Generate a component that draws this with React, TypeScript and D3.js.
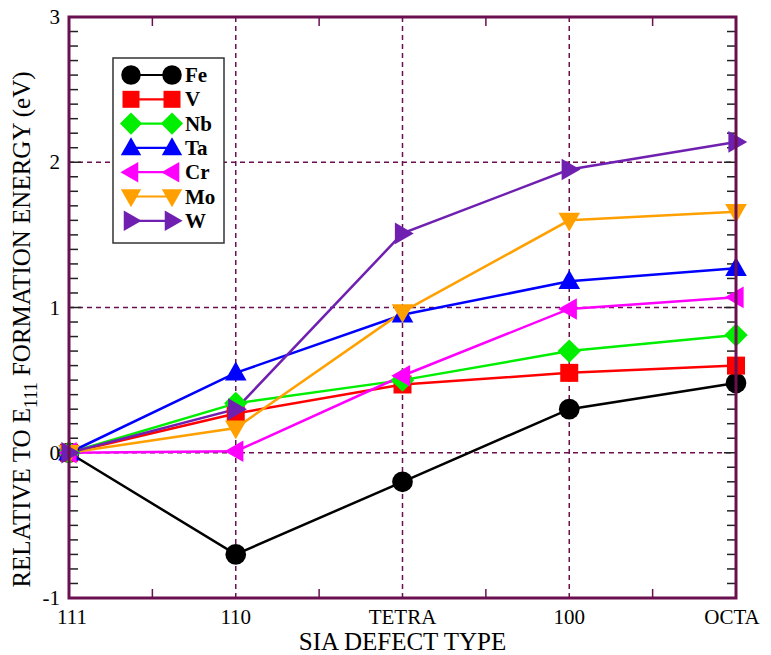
import React, { useEffect } from 'react';
import * as d3 from 'd3';

const categories = ['111', '110', 'TETRA', '100', 'OCTA'];
const yTicks = [-1, 0, 1, 2, 3];

const feValues = [0, -0.7, -0.2, 0.3, 0.48];
const vValues = [0, 0.27, 0.47, 0.55, 0.6];
const nbValues = [0, 0.34, 0.5, 0.7, 0.81];
const taValues = [0, 0.55, 0.95, 1.18, 1.27];
const crValues = [0, 0.01, 0.53, 0.99, 1.07];
const moValues = [0, 0.17, 0.97, 1.6, 1.66];
const wValues = [0, 0.3, 1.51, 1.95, 2.14];

const seriesNames = ['Fe', 'V', 'Nb', 'Ta', 'Cr', 'Mo', 'W'];
const seriesColors = ['#000000', '#ff0000', '#00ee00', '#0000ff', '#ff00ff', '#ffa000', '#7020b0'];
const seriesMarkers = ['circle', 'square', 'diamond', 'up', 'left', 'down', 'right'];
const seriesValues = [feValues, vValues, nbValues, taValues, crValues, moValues, wValues];

const FRAME = '#6a1050';
const txt = { fontFamily: 'Liberation Serif' };

function markerPath(kind: string, s: number): string {
  switch (kind) {
    case 'square':
      return `M${-s},${-s}H${s}V${s}H${-s}Z`;
    case 'diamond':
      return `M0,${-s * 1.3}L${s * 1.3},0L0,${s * 1.3}L${-s * 1.3},0Z`;
    case 'up':
      return `M0,${-s * 1.25}L${s * 1.2},${s * 0.85}L${-s * 1.2},${s * 0.85}Z`;
    case 'down':
      return `M0,${s * 1.25}L${s * 1.2},${-s * 0.85}L${-s * 1.2},${-s * 0.85}Z`;
    case 'left':
      return `M${-s * 1.25},0L${s * 0.85},${-s * 1.2}L${s * 0.85},${s * 1.2}Z`;
    case 'right':
      return `M${s * 1.25},0L${-s * 0.85},${-s * 1.2}L${-s * 0.85},${s * 1.2}Z`;
    default:
      return d3.arc()({ innerRadius: 0, outerRadius: s * 1.15, startAngle: 0, endAngle: 2 * Math.PI }) as string;
  }
}

const width = 771;
const height = 655;
const margin = { top: 17, right: 35, bottom: 57, left: 69 };
const innerW = width - margin.left - margin.right;
const innerH = height - margin.top - margin.bottom;

const App = () => {
  useEffect(() => {
    document.body.style.margin = '0';
  }, []);

  const xScale = d3.scalePoint<string>().domain(categories).range([0, innerW]);
  const yScale = d3.scaleLinear().domain([-1, 3]).range([innerH, 0]);
  const line = d3.line<number>()
    .x((d, i) => xScale(categories[i])!)
    .y(d => yScale(d));

  const minorY = d3.range(-10, 31).map(i => i / 10);
  const tickLen = (d: number) => (Math.round(d * 10) % 10 === 0 ? 12 : 9);
  const step = xScale.step();
  const midX = categories.slice(0, -1).map(c => xScale(c)! + step / 2);

  return (
    <svg width={width} height={height} style={{ display: 'block' }}>
      <style>{'text, tspan { font-family: "Liberation Serif", serif !important; }'}</style>
      <g transform={`translate(${margin.left},${margin.top})`}>
        {/* dashed grid */}
        {yTicks.filter(d => d > -1 && d < 3).map(d => (
          <line key={'gy' + d} x1={0} x2={innerW} y1={yScale(d)} y2={yScale(d)}
            stroke={FRAME} strokeWidth={1.5} strokeDasharray="5,4" />
        ))}
        {categories.slice(1, -1).map(c => (
          <line key={'gx' + c} x1={xScale(c)} x2={xScale(c)} y1={0} y2={innerH}
            stroke={FRAME} strokeWidth={1.5} strokeDasharray="5,4" />
        ))}

        {/* minor ticks */}
        {minorY.map(d => (
          <g key={'my' + d}>
            <line x1={0} x2={tickLen(d)} y1={yScale(d)} y2={yScale(d)} stroke="#222" strokeWidth={1.5} />
            <line x1={innerW} x2={innerW - tickLen(d)} y1={yScale(d)} y2={yScale(d)} stroke="#222" strokeWidth={1.5} />
          </g>
        ))}
        {midX.map(x => (
          <g key={'mx' + x}>
            <line x1={x} x2={x} y1={innerH} y2={innerH - 9} stroke={FRAME} strokeWidth={1.5} />
            <line x1={x} x2={x} y1={0} y2={9} stroke={FRAME} strokeWidth={1.5} />
          </g>
        ))}

        {/* series */}
        {seriesValues.map((vals, si) => (
          <path key={'l' + si} d={line(vals)!} fill="none" stroke={seriesColors[si]} strokeWidth={2.5} />
        ))}
        {seriesValues.map((vals, si) => (
          <g key={'m' + si} fill={seriesColors[si]}>
            {vals.map((v, i) => (
              <path key={i} transform={`translate(${xScale(categories[i])},${yScale(v)})`}
                d={markerPath(seriesMarkers[si], 9)} />
            ))}
          </g>
        ))}

        {/* frame */}
        <rect x={0} y={0} width={innerW} height={innerH} fill="none" stroke={FRAME} strokeWidth={3} />

        {/* tick labels */}
        {yTicks.map(d => (
          <text key={'ty' + d} x={-9} y={yScale(d) + 7} textAnchor="end" fontSize={21} style={txt}>{d}</text>
        ))}
        {categories.map((c, i) => (
          <text key={'tx' + c} x={xScale(c)! + (i === 0 ? 3 : i === categories.length - 1 ? -4 : 0)}
            y={innerH + 26} textAnchor="middle" fontSize={21} style={txt}>{c}</text>
        ))}

        <text x={innerW / 2} y={innerH + 52} textAnchor="middle" fontSize={25} style={txt}>SIA DEFECT TYPE</text>
      </g>

      <text transform={`translate(30,${margin.top + innerH / 2 + 22}) rotate(-90)`} textAnchor="middle"
        fontSize={25} style={txt}>
        <tspan>RELATIVE  TO  E</tspan>
        <tspan fontSize={18} dy={7}>111</tspan>
        <tspan dy={-7}>  FORMATION ENERGY (eV)</tspan>
      </text>

      {/* legend */}
      <g transform="translate(113,58)">
        <rect width={111} height={185} fill="#fff" stroke="#333" strokeWidth={1.5} />
        {seriesNames.map((name, i) => (
          <g key={name} transform={`translate(0,${17 + i * 24.3})`}>
            <line x1={18} x2={59} y1={0} y2={0} stroke={seriesColors[i]} strokeWidth={2.2} />
            {[18, 59].map(mx => (
              <path key={mx} transform={`translate(${mx},0)`} d={markerPath(seriesMarkers[i], 8.5)} fill={seriesColors[i]} />
            ))}
            <text x={72} y={7} fontWeight="bold" fontSize={21} style={txt}>{name}</text>
          </g>
        ))}
      </g>
    </svg>
  );
};

export default App;
